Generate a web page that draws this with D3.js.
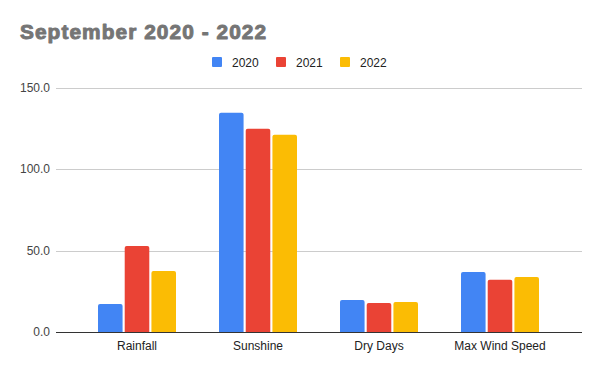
<!DOCTYPE html>
<html><head><meta charset="utf-8">
<script src="https://cdn.jsdelivr.net/npm/d3@7"></script>
<style>body{margin:0;background:#fff}svg{display:block;font-family:Arial,"Liberation Sans",sans-serif}</style>
</head><body><svg id="c" width="600" height="371"></svg>
<script>
const categories = ["Rainfall", "Sunshine", "Dry Days", "Max Wind Speed"];
const seriesNames = ["2020", "2021", "2022"];
const values2020 = [17.4, 134.8, 19.9, 37.1];
const values2021 = [53.0, 125.0, 18.0, 32.2];
const values2022 = [37.7, 121.3, 18.6, 34.0];
const yTicks = [0, 50, 100, 150];
const colors = ["#4285f4", "#ea4335", "#fbbc04"];

const series = [values2020, values2021, values2022];
const svg = d3.select("#c");
const x = d3.scaleBand().domain(categories).range([76.5, 560.5]).paddingInner(0).paddingOuter(0);
const inner = d3.scaleBand().domain(seriesNames).range([0, 78]).paddingInner(0.08);
const xOff = (x.bandwidth() - 78) / 2;
const y = d3.scaleLinear().domain([0, 150]).range([332.3, 88]);

// grid
svg.append("g").selectAll("line").data(yTicks.filter(d=>d>0)).join("line")
  .attr("x1", 56).attr("x2", 582).attr("y1", d=>Math.round(y(d))+0.5).attr("y2", d=>Math.round(y(d))+0.5)
  .attr("stroke", "#cccccc").attr("stroke-width", 1);

// y labels
svg.append("g").selectAll("text").data(yTicks).join("text")
  .attr("x", 50).attr("y", d=>y(d)+4).attr("text-anchor","end")
  .attr("font-size", 12).attr("fill","#444").text(d=>d3.format(".1f")(d));

// bars
function barPath(x0, w, yTop, yBot, r) {
  r = Math.min(r, (yBot-yTop)/2, w/2);
  return `M${x0},${yBot}V${yTop+r}Q${x0},${yTop} ${x0+r},${yTop}H${x0+w-r}Q${x0+w},${yTop} ${x0+w},${yTop+r}V${yBot}Z`;
}
series.forEach((vals, si) => {
  svg.append("g").selectAll("path").data(vals).join("path")
    .attr("d", (v,i) => barPath(x(categories[i]) + xOff + inner(seriesNames[si]), inner.bandwidth(), y(v), y(0), 2))
    .attr("fill", colors[si]);
});

// baseline
svg.append("line").attr("x1",56).attr("x2",582).attr("y1",332.5).attr("y2",332.5).attr("stroke","#333").attr("stroke-width",1);

// x labels
svg.append("g").selectAll("text").data(categories).join("text")
  .attr("x", d=>x(d)+x.bandwidth()/2).attr("y", 350).attr("text-anchor","middle")
  .attr("font-size", 12).attr("fill","#222").text(d=>d);

// title
svg.append("text").attr("transform","translate(20,39) scale(1.07,1)").attr("font-size", 19.5).attr("font-weight","bold")
  .attr("fill","#757575").attr("stroke","#757575").attr("stroke-width",0.9).attr("stroke-linejoin","round")
  .attr("textLength", 230).attr("lengthAdjust","spacing")
  .text("September 2020 - 2022");

// legend
const legX = [212, 276, 340];
const lg = svg.append("g").selectAll("g").data(seriesNames).join("g")
  .attr("transform",(d,i)=>`translate(${legX[i]},57)`);
lg.append("rect").attr("width",10).attr("height",10).attr("rx",1).attr("fill",(d,i)=>colors[i]);
lg.append("text").attr("x",20).attr("y",9.5).attr("font-size",12).attr("fill","#222").text(d=>d);
</script></body></html>
